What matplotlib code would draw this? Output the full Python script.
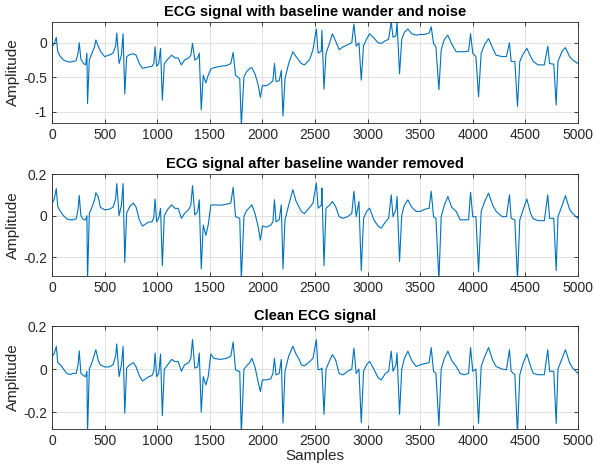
import matplotlib
matplotlib.use('Agg')
import matplotlib.pyplot as plt

# vertices of the traces (sample index, amplitude)
samples = [
    0, 20, 41, 55, 80, 110, 140, 170, 200, 230,
    248, 259, 275, 300, 320, 332, 338, 355, 380, 405,
    417, 440, 460, 500, 540, 580, 605, 616, 638, 660,
    676, 692, 710, 740, 775, 800, 830, 860, 890, 920,
    950, 968, 980, 995, 1015, 1032, 1049, 1068, 1100, 1137,
    1170, 1200, 1230, 1260, 1300, 1320, 1336, 1358, 1385, 1400,
    1419, 1438, 1463, 1485, 1510, 1540, 1600, 1660, 1700, 1722,
    1745, 1770, 1785, 1800, 1825, 1850, 1880, 1900, 1930, 1960,
    1981, 2000, 2040, 2080, 2100, 2115, 2130, 2160, 2180, 2196,
    2215, 2250, 2290, 2320, 2350, 2370, 2400, 2450, 2481, 2513,
    2530, 2560, 2566, 2586, 2605, 2640, 2665, 2695, 2730, 2766,
    2810, 2850, 2870, 2892, 2918, 2940, 2962, 2990, 3019, 3060,
    3100, 3130, 3170, 3200, 3225, 3242, 3270, 3280, 3304, 3325,
    3350, 3383, 3420, 3463, 3500, 3540, 3585, 3605, 3627, 3650,
    3678, 3700, 3730, 3763, 3800, 3843, 3880, 3920, 3960, 3979,
    4000, 4030, 4055, 4080, 4115, 4150, 4190, 4222, 4280, 4320,
    4349, 4365, 4400, 4425, 4447, 4480, 4514, 4550, 4575, 4620,
    4680, 4713, 4730, 4770, 4793, 4810, 4850, 4881, 4920, 4950,
    5000]

noisy = [
    -0.05, -0.02, 0.077, -0.13, -0.2, -0.25, -0.27, -0.28, -0.27, -0.26,
    -0.15, 0.0, -0.24, -0.3, -0.32, -0.15, -0.88, -0.25, -0.15, -0.06,
    0.04, -0.05, -0.12, -0.2, -0.18, -0.15, -0.05, 0.14, -0.3, -0.18,
    0.13, -0.74, -0.2, -0.17, -0.16, -0.18, -0.3, -0.37, -0.36, -0.35,
    -0.34, -0.3, -0.06, -0.34, -0.3, -0.08, -0.83, -0.3, -0.24, -0.18,
    -0.22, -0.22, -0.32, -0.25, -0.22, -0.18, -0.01, -0.25, -0.22, -0.15,
    -0.97, -0.47, -0.58, -0.47, -0.38, -0.36, -0.34, -0.33, -0.3, -0.14,
    -0.47, -0.5, -0.52, -1.2, -0.49, -0.42, -0.37, -0.36, -0.45, -0.61,
    -0.79, -0.62, -0.62, -0.58, -0.55, -0.3, -0.56, -0.55, -0.4, -1.06,
    -0.52, -0.3, -0.13, -0.2, -0.26, -0.3, -0.32, -0.24, -0.1, 0.2,
    -0.15, -0.12, 0.18, -0.67, -0.15, 0.0, 0.13, 0.03, -0.1, -0.06,
    -0.03, 0.0, 0.27, -0.05, 0.0, -0.54, -0.04, 0.05, 0.13, 0.07,
    0.0, -0.01, 0.03, 0.05, 0.3, 0.08, 0.1, 0.3, -0.45, 0.05,
    0.15, 0.2, 0.13, 0.11, 0.12, 0.12, 0.14, 0.23, -0.01, -0.06,
    -0.68, -0.1, 0.05, 0.11, -0.02, -0.13, -0.13, -0.13, -0.12, 0.13,
    -0.15, -0.2, -0.78, -0.15, -0.02, 0.06, -0.08, -0.18, -0.2, -0.2,
    0.0, -0.27, -0.27, -0.92, -0.27, -0.16, -0.08, -0.2, -0.27, -0.32,
    -0.32, -0.05, -0.3, -0.31, -0.9, -0.27, -0.12, -0.07, -0.2, -0.25,
    -0.3]

filtered = [
    0.06, 0.076, 0.13, 0.044, 0.02, 0.0, -0.015, -0.02, -0.02, -0.015,
    0.03, 0.097, 0.0, -0.02, -0.02, 0.0, -0.31, 0.01, 0.04, 0.076,
    0.11, 0.09, 0.04, 0.028, 0.03, 0.04, 0.08, 0.154, 0.0, 0.05,
    0.154, -0.224, 0.012, 0.045, 0.06, 0.04, -0.02, -0.05, -0.04, -0.03,
    -0.03, -0.01, 0.08, -0.03, -0.01, 0.035, -0.24, 0.0, 0.03, 0.052,
    0.035, 0.035, -0.013, 0.01, 0.03, 0.05, 0.144, 0.003, 0.02, 0.076,
    -0.256, -0.045, -0.094, -0.045, 0.05, 0.052, 0.05, 0.055, 0.06, 0.136,
    -0.005, -0.01, -0.013, -0.31, -0.005, 0.025, 0.04, 0.052, 0.01, -0.053,
    -0.118, -0.05, -0.055, -0.045, -0.03, 0.076, -0.03, -0.02, 0.052, -0.256,
    -0.02, 0.05, 0.125, 0.07, 0.04, 0.02, 0.01, 0.04, 0.06, 0.157,
    0.036, 0.05, 0.133, -0.24, 0.036, 0.05, 0.068, 0.045, -0.005, -0.013,
    -0.005, 0.01, 0.117, -0.005, 0.068, -0.264, -0.013, 0.02, 0.036, -0.02,
    -0.05, -0.06, -0.03, -0.013, 0.1, -0.005, 0.03, 0.092, -0.22, 0.003,
    0.05, 0.076, 0.04, 0.02, 0.02, 0.03, 0.035, 0.117, -0.005, -0.013,
    -0.31, -0.005, 0.05, 0.092, 0.04, 0.02, -0.02, -0.02, -0.02, 0.112,
    -0.005, -0.005, -0.27, 0.02, 0.07, 0.108, 0.05, 0.02, -0.005, -0.005,
    0.1, -0.013, -0.021, -0.31, -0.021, 0.03, 0.08, 0.01, -0.015, -0.024,
    -0.024, 0.1, -0.013, -0.013, -0.264, -0.005, 0.05, 0.096, 0.03, 0.01,
    -0.013]

clean = [
    0.06, 0.07, 0.106, 0.03, 0.02, 0.0, -0.02, -0.025, -0.02, -0.02,
    0.02, 0.085, -0.02, -0.03, -0.035, -0.01, -0.30, 0.0, 0.03, 0.07,
    0.09, 0.04, 0.02, 0.01, 0.01, 0.02, 0.06, 0.117, -0.035, 0.02,
    0.106, -0.205, 0.005, 0.02, 0.03, 0.01, -0.03, -0.055, -0.045, -0.035,
    -0.03, -0.01, 0.075, -0.035, -0.02, 0.07, -0.216, 0.0, 0.02, 0.045,
    0.035, 0.035, -0.01, 0.02, 0.03, 0.05, 0.137, 0.005, 0.01, 0.075,
    -0.2, -0.035, -0.073, -0.035, 0.07, 0.05, 0.045, 0.05, 0.06, 0.125,
    -0.003, -0.01, -0.01, -0.30, 0.0, 0.015, 0.03, 0.05, 0.01, -0.06,
    -0.104, -0.05, -0.05, -0.045, -0.02, 0.05, -0.027, -0.02, 0.045, -0.25,
    -0.01, 0.06, 0.106, 0.07, 0.045, 0.02, 0.015, 0.035, 0.05, 0.137,
    -0.003, 0.0, 0.005, -0.21, 0.0, 0.04, 0.067, 0.045, -0.02, -0.027,
    -0.01, 0.0, 0.098, -0.02, 0.0, -0.248, -0.01, 0.02, 0.036, 0.0,
    -0.04, -0.05, -0.02, -0.01, 0.083, -0.01, 0.02, 0.075, -0.21, 0.0,
    0.05, 0.083, 0.04, 0.012, 0.02, 0.025, 0.03, 0.1, -0.01, -0.02,
    -0.263, 0.0, 0.05, 0.083, 0.04, 0.012, -0.02, -0.026, -0.02, 0.1,
    -0.01, 0.0, -0.252, 0.012, 0.06, 0.1, 0.04, 0.012, 0.0, -0.003,
    0.09, -0.01, -0.026, -0.30, -0.026, 0.03, 0.07, 0.012, -0.02, -0.026,
    -0.026, 0.09, -0.01, -0.01, -0.252, 0.0, 0.05, 0.09, 0.03, 0.005,
    -0.02]

titles = ['ECG signal with baseline wander and noise',
          'ECG signal after baseline wander removed',
          'Clean ECG signal']
x_ticks = [0, 500, 1000, 1500, 2000, 2500, 3000, 3500, 4000, 4500, 5000]
y_ticks = [[-1, -0.5, 0], [-0.2, 0, 0.2], [-0.2, 0, 0.2]]
y_tick_labels = [['-1', '-0.5', '0'], ['-0.2', '0', '0.2'], ['-0.2', '0', '0.2']]
y_limits = [(-1.16, 0.30), (-0.29, 0.2), (-0.278, 0.2)]

plt.rcParams['font.family'] = ['Liberation Sans', 'DejaVu Sans']
plt.rcParams['axes.unicode_minus'] = False

fig = plt.figure(figsize=(5.94, 4.74), dpi=100)
positions = [[0.0875, 0.7405, 0.8855, 0.2131],
             [0.0875, 0.4177, 0.8855, 0.2152],
             [0.0875, 0.0949, 0.8855, 0.2173]]
dark = '#262626'

for i, series in enumerate([noisy, filtered, clean]):
    ax = fig.add_axes(positions[i])
    ax.plot(samples, series, color='#0072BD', lw=0.8)
    ax.set_xlim(0, 5000)
    ax.set_ylim(*y_limits[i])
    ax.set_xticks(x_ticks)
    ax.set_xticklabels([str(t) for t in x_ticks])
    ax.set_yticks(y_ticks[i])
    ax.set_yticklabels(y_tick_labels[i])
    ax.grid(True, color='#dcdcdc', lw=0.6)
    ax.set_axisbelow(True)
    ax.tick_params(direction='in', top=True, right=True, length=3,
                   width=0.6, colors=dark, labelsize=10)
    for sp in ax.spines.values():
        sp.set_color(dark)
        sp.set_linewidth(0.6)
    ax.set_title(titles[i], fontsize=10.5, fontweight='bold', pad=4, color='black')
    ax.set_ylabel('Amplitude', fontsize=11, color=dark, labelpad=2)
    if i == 2:
        ax.set_xlabel('Samples', fontsize=11, color=dark, labelpad=1)

fig.savefig('out.png', dpi=100)
